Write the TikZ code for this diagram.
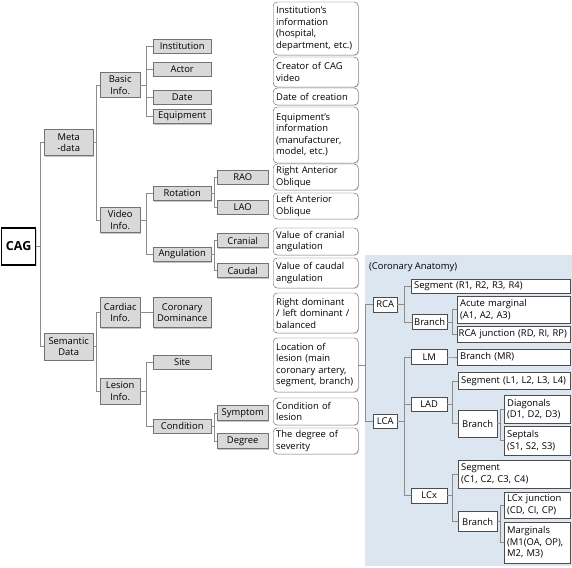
\documentclass[tikz,border=0pt]{standalone}
\usepackage{fontspec}
\setmainfont{Open Sans}
\usepackage{xcolor}
\usetikzlibrary{calc,shadows}
\definecolor{anatomyblue}{HTML}{DCE6F1}
\definecolor{linegray}{HTML}{8C8C8C}
\begin{document}
\begin{tikzpicture}[
    x=1pt, y=-1pt,
    every node/.style={font=\fontsize{9.4}{11.5}\selectfont, inner sep=0pt},
    catbox/.style={draw=black!55, fill=black!15, align=center,
        minimum width=#1, anchor=west,
        drop shadow={shadow xshift=1pt, shadow yshift=-1pt, fill=black!45}},
    descbox/.style={draw=black!65, fill=white, rounded corners=4pt, align=left,
        text width=79pt, inner xsep=3pt, anchor=west,
        drop shadow={shadow xshift=0.8pt, shadow yshift=-0.8pt, fill=black!30}},
    anabox/.style={draw=black!70, fill=white, align=center, minimum width=#1,
        anchor=west,
        drop shadow={shadow xshift=0.8pt, shadow yshift=-0.8pt, fill=black!30}},
    anatext/.style={draw=black!70, fill=white, align=left, text width=#1,
        inner xsep=3pt, anchor=west,
        drop shadow={shadow xshift=0.8pt, shadow yshift=-0.8pt, fill=black!30}},
    link/.style={draw=linegray, line width=0.8pt}
]
\useasboundingbox (0,0) rectangle (572,567);
\fill[anatomyblue] (365,255) rectangle (572,566);
\node[anchor=west] (anatomy) at (369,267) {(Coronary Anatomy)};

\node [draw=black, line width=1.3pt, fill=white, minimum width=34pt,
    minimum height=37pt, anchor=west, font=\fontsize{12.5}{14}\selectfont\bfseries,
    drop shadow={shadow xshift=1pt, shadow yshift=-1pt, fill=black!30}]
    (cag) at (1,246.5) {CAG};

\node [catbox=49pt, minimum height=26pt] (meta) at (44,142.5) {Meta\\-data};
\node [catbox=49pt, minimum height=27pt] (sem) at (44,346.5) {Semantic\\Data};

\node [catbox=40pt, minimum height=25pt] (basic) at (100,85) {Basic\\Info.};
\node [catbox=40pt, minimum height=25pt] (video) at (100,220) {Video\\Info.};
\node [catbox=40pt, minimum height=30pt] (cardiac) at (100,312.5) {Cardiac\\Info.};
\node [catbox=40pt, minimum height=26pt] (lesion) at (100,391) {Lesion\\Info.};

\node [catbox=58pt, minimum height=14pt] (inst) at (153,46) {Institution};
\node [catbox=58pt, minimum height=14pt] (actor) at (153,69.5) {Actor};
\node [catbox=58pt, minimum height=14pt] (date) at (153,97.5) {Date};
\node [catbox=58pt, minimum height=14pt] (equip) at (153,116.5) {Equipment};
\node [catbox=58pt, minimum height=14pt] (rot) at (153,193.5) {Rotation};
\node [catbox=58pt, minimum height=14pt] (ang) at (153,254.5) {Angulation};
\node [catbox=58pt, minimum height=30pt] (dom) at (153,312.5) {Coronary\\Dominance};
\node [catbox=58pt, minimum height=14pt] (site) at (153,362) {Site};
\node [catbox=58pt, minimum height=14pt] (cond) at (153,426) {Condition};

\node [catbox=51pt, minimum height=14pt] (rao) at (217,177) {RAO};
\node [catbox=51pt, minimum height=14pt] (lao) at (217,207) {LAO};
\node [catbox=51pt, minimum height=14pt] (cran) at (217,240.5) {Cranial};
\node [catbox=51pt, minimum height=14pt] (caud) at (217,270.5) {Caudal};
\node [catbox=51pt, minimum height=15pt] (symp) at (217,413) {Symptom};
\node [catbox=51pt, minimum height=15pt] (deg) at (217,441) {Degree};

\node [descbox, minimum height=53pt] (instdesc) at (273,28.5)
    {Institution’s\\information\\(hospital,\\department, etc.)};
\node [descbox, minimum height=30pt] (actordesc) at (273,72) {Creator of CAG\\video};
\node [descbox, minimum height=17pt] (datedesc) at (273,96.5) {Date of creation};
\node [descbox, minimum height=56pt] (equipdesc) at (273,135)
    {Equipment’s\\information\\(manufacturer,\\model, etc.)};
\node [descbox, minimum height=26pt] (raodesc) at (273,177) {Right Anterior\\Oblique};
\node [descbox, minimum height=26pt] (laodesc) at (273,206) {Left Anterior\\Oblique};
\node [descbox, minimum height=27pt] (crandesc) at (273,241.5) {Value of cranial\\angulation};
\node [descbox, minimum height=30pt] (cauddesc) at (273,273) {Value of caudal\\angulation};
\node [descbox, minimum height=40pt] (domdesc) at (273,313)
    {Right dominant\\/ left dominant /\\balanced};
\node [descbox, minimum height=54pt] (sitedesc) at (273,365)
    {Location of\\lesion (main\\coronary artery,\\segment, branch)};
\node [descbox, minimum height=27pt] (sympdesc) at (273,411.5) {Condition of\\lesion};
\node [descbox, minimum height=26pt] (degdesc) at (273,441) {The degree of\\severity};

\node [anabox=24pt, minimum height=15pt] (rca) at (373,304.5) {RCA};
\node [anabox=24pt, minimum height=14pt] (lca) at (373,421.5) {LCA};
\node [anatext=153pt, minimum height=14pt] (rcaseg) at (411,286) {Segment (R1, R2, R3, R4)};
\node [anabox=35pt, minimum height=15pt] (rcabranch) at (412,322) {Branch};
\node [anatext=107pt, minimum height=27pt] (acute) at (457,309.5) {Acute marginal\\(A1, A2, A3)};
\node [anatext=110pt, inner xsep=1.5pt, minimum height=16pt] (rcajunc) at (457,334) {RCA junction (RD, RI, RP)};
\node [anabox=36pt, minimum height=15pt] (lm) at (411,357) {LM};
\node [anatext=107pt, minimum height=16pt] (lmbranch) at (457,357) {Branch (MR)};
\node [anabox=36pt, minimum height=14pt] (lad) at (411,404) {LAD};
\node [anatext=106pt, minimum height=17pt] (ladseg) at (458,381) {Segment (L1, L2, L3, L4)};
\node [anabox=39pt, minimum height=27pt] (ladbranch) at (458,423.5) {Branch};
\node [anatext=60pt, minimum height=28pt] (diag) at (504,409) {Diagonals\\(D1, D2, D3)};
\node [anatext=60pt, minimum height=29pt] (sept) at (504,440.5) {Septals\\(S1, S2, S3)};
\node [anabox=36pt, minimum height=15pt] (lcx) at (411,495.5) {LCx};
\node [anatext=106pt, minimum height=28pt] (lcxseg) at (458,474) {Segment\\(C1, C2, C3, C4)};
\node [anabox=39pt, minimum height=20pt] (lcxbranch) at (458,521.5) {Branch};
\node [anatext=60pt, minimum height=26pt] (lcxjunc) at (504,505) {LCx junction\\(CD, CI, CP)};
\node [anatext=60pt, minimum height=41pt] (marg) at (504,542.5) {Marginals\\(M1(OA, OP),\\M2, M3)};

\foreach \a/\b in {cag/meta, cag/sem, meta/basic, meta/video,
    basic/inst, basic/actor, basic/date, basic/equip, video/rot, video/ang,
    rot/rao, rot/lao, ang/cran, ang/caud, sem/cardiac, sem/lesion,
    cardiac/dom, lesion/site, lesion/cond, cond/symp, cond/deg,
    sitedesc/rca, sitedesc/lca, rca/rcaseg, rca/rcabranch,
    rcabranch/acute, rcabranch/rcajunc, lca/lm, lca/lad, lca/lcx,
    lm/lmbranch, lad/ladseg, lad/ladbranch, ladbranch/diag, ladbranch/sept,
    lcx/lcxseg, lcx/lcxbranch, lcxbranch/lcxjunc, lcxbranch/marg}
    \draw[link] (\a.east) -| ($(\a.east)!.5!(\b.west)$) |- (\b.west);
\end{tikzpicture}
\end{document}
